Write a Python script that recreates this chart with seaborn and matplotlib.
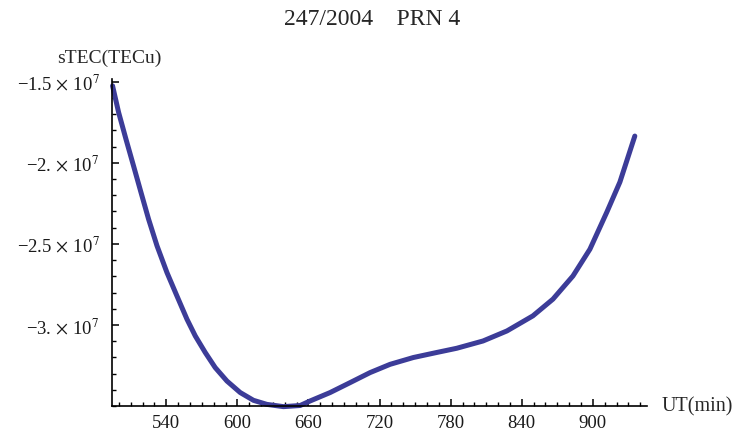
# -*- coding: utf-8 -*-
"""
sTEC x UT - 247/2004 PRN 4 (Mathematica style)
"""
import pandas as pd
import matplotlib
matplotlib.use('Agg')
import matplotlib.pyplot as plt
import seaborn as sns
from matplotlib.ticker import MultipleLocator, FixedLocator, FuncFormatter

# ---------------- dados ---------------- #
ut_min = [494.7, 499.8, 506.0, 512.4, 518.7, 525.1, 532.2, 540.6, 549.0, 557.5,
          564.5, 572.9, 581.3, 591.2, 602.4, 613.6, 624.9, 638.9, 653.0, 661.4,
          678.3, 695.1, 712.0, 728.9, 748.5, 768.2, 785.1, 807.3, 827.5, 849.4,
          866.3, 883.2, 897.5, 911.8, 922.8, 935.4]
stec_e7 = [-1.525, -1.689, -1.854, -2.019, -2.183, -2.348, -2.512, -2.677, -2.821, -2.965,
           -3.068, -3.170, -3.263, -3.346, -3.417, -3.465, -3.490, -3.504, -3.497, -3.469,
           -3.417, -3.356, -3.294, -3.243, -3.201, -3.170, -3.144, -3.099, -3.037, -2.944,
           -2.841, -2.698, -2.533, -2.304, -2.119, -1.835]
x_major = [540, 600, 660, 720, 780, 840, 900]
y_major_e7 = [-3.0, -2.5, -2.0, -1.5]
title = '247/2004    PRN 4'

df = pd.DataFrame({'UT': ut_min, 'sTEC': [v * 1e7 for v in stec_e7]})

# ---------------- estilo ---------------- #
sns.set_theme(style='white')
plt.rcParams['font.family'] = ['Liberation Serif', 'DejaVu Serif']
plt.rcParams['mathtext.fontset'] = 'stix'


def fmt_y(v, pos):
    m = v / 1e7
    s = f'{abs(m):.1f}'
    if s.endswith('.0'):
        s = s[:-1]
    return '\u2212' + s + r'$\,\times\,$' + '10$^{7}$'


fig = plt.figure(figsize=(7.47, 4.31), dpi=100)
ax = fig.add_axes([0.1499, 0.0557, 0.866 - 0.1499, 0.8144 - 0.0557])

sns.lineplot(data=df, x='UT', y='sTEC', color='#3c3c98', linewidth=3.6,
             ax=ax, clip_on=False, solid_capstyle='round', solid_joinstyle='round')

ax.set_xlim(494.2, 945.6)
ax.set_ylim(-3.5e7, -1.483e7)
ax.xaxis.set_major_locator(FixedLocator(x_major))
ax.xaxis.set_minor_locator(MultipleLocator(10))
ax.yaxis.set_major_locator(FixedLocator([v * 1e7 for v in y_major_e7]))
ax.yaxis.set_minor_locator(MultipleLocator(0.1e7))
ax.yaxis.set_major_formatter(FuncFormatter(fmt_y))

for s in ['top', 'right']:
    ax.spines[s].set_visible(False)
for s in ['left', 'bottom']:
    ax.spines[s].set_color('black')
    ax.spines[s].set_linewidth(1.2)

ax.tick_params(which='major', direction='in', length=5, width=1.1, colors='black',
               labelsize=13.5, labelcolor='#1a1a1a')
ax.tick_params(which='minor', direction='in', length=3, width=1.0, colors='black')
ax.tick_params(axis='x', which='both', bottom=True, pad=6)
ax.tick_params(axis='y', which='both', left=True, pad=9)
ax.set_xlabel('')
ax.set_ylabel('')

fig.text(0.146, 0.865, 'sTEC(TECu)', ha='center', va='center', fontsize=14)
fig.text(0.886, 0.056, 'UT(min)', ha='left', va='center', fontsize=14.5)
fig.text(0.498, 0.954, title, ha='center', va='center', fontsize=17)

plt.savefig('out.png', dpi=100)
